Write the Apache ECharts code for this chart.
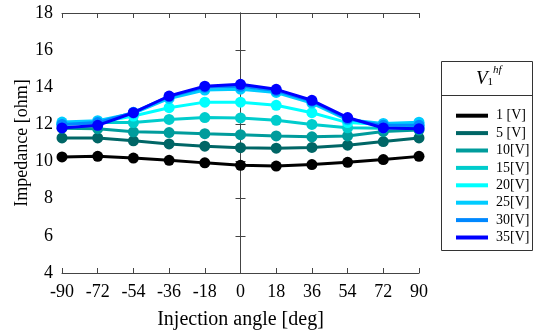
<!DOCTYPE html>
<html>
<head>
<meta charset="utf-8">
<script src="https://cdn.jsdelivr.net/npm/echarts@6/dist/echarts.min.js"></script>
<style>
  html, body { margin: 0; padding: 0; background: #fff; }
  #chart { width: 535px; height: 332px; }
</style>
</head>
<body>
<div id="chart"></div>
<script>
const angles = [-90, -72, -54, -36, -18, 0, 18, 36, 54, 72, 90];
const seriesNames = ["1 [V]", "5 [V]", "10[V]", "15[V]", "20[V]", "25[V]", "30[V]", "35[V]"];
const seriesColors = ["#000000", "#006666", "#009c9c", "#00cccc", "#00ffff", "#00ccff", "#0088ff", "#0000ff"];
const v1 = [10.25, 10.28, 10.19, 10.07, 9.93, 9.8, 9.76, 9.84, 9.96, 10.11, 10.28];
const v5 = [11.27, 11.27, 11.12, 10.95, 10.83, 10.75, 10.72, 10.76, 10.88, 11.08, 11.27];
const v10 = [11.8, 11.77, 11.6, 11.56, 11.5, 11.45, 11.38, 11.33, 11.38, 11.62, 11.7];
const v15 = [12.0, 12.1, 12.1, 12.27, 12.37, 12.35, 12.22, 12.0, 11.82, 11.8, 11.85];
const v20 = [12.05, 12.1, 12.45, 12.9, 13.2, 13.2, 13.03, 12.63, 12.1, 12.0, 12.0];
const v25 = [12.13, 12.2, 12.6, 13.4, 13.85, 13.9, 13.72, 13.15, 12.25, 12.05, 12.12];
const v30 = [12.0, 12.1, 12.65, 13.5, 14.0, 14.05, 13.82, 13.25, 12.3, 11.95, 11.95];
const v35 = [11.81, 11.95, 12.63, 13.53, 14.06, 14.16, 13.89, 13.3, 12.37, 11.81, 11.77];
const allValues = [v1, v5, v10, v15, v20, v25, v30, v35];
const yTicks = [4, 6, 8, 10, 12, 14, 16, 18];

const font = "'Liberation Serif', 'Times New Roman', serif";
const axisColor = "#444";

const chart = echarts.init(document.getElementById("chart"), null, { renderer: "canvas" });

const tickAxis = {
  axisLine: { show: true, lineStyle: { color: axisColor, width: 1 } },
  axisTick: { show: true, inside: true, length: 5, lineStyle: { color: axisColor } },
  splitLine: { show: false },
};

chart.setOption({
  animation: false,
  backgroundColor: "#fff",
  grid: { left: 62, right: 116, top: 13, bottom: 59, outerBoundsMode: "none" },
  xAxis: [
    {
      type: "value",
      min: -90,
      max: 90,
      interval: 18,
      ...tickAxis,
      axisLabel: { color: "#000", fontFamily: font, fontSize: 18, margin: 10 },
      name: "Injection angle [deg]",
      nameLocation: "middle",
      nameGap: 37,
      nameTextStyle: { color: "#000", fontFamily: font, fontSize: 20 },
    },
    {
      type: "value",
      position: "top",
      min: -90,
      max: 90,
      interval: 18,
      ...tickAxis,
      axisLabel: { show: false },
    },
  ],
  yAxis: [
    {
      type: "value",
      min: yTicks[0],
      max: yTicks[yTicks.length - 1],
      interval: 2,
      ...tickAxis,
      axisLabel: { color: "#000", fontFamily: font, fontSize: 18, margin: 9 },
      name: "Impedance [ohm]",
      nameLocation: "middle",
      nameGap: 31,
      nameMoveOverlap: false,
      nameTextStyle: { color: "#000", fontFamily: font, fontSize: 18 },
    },
    {
      type: "value",
      position: "right",
      min: yTicks[0],
      max: yTicks[yTicks.length - 1],
      interval: 2,
      ...tickAxis,
      axisLabel: { show: false },
    },
  ],
  legend: {
    orient: "vertical",
    left: 451,
    top: 102,
    itemWidth: 32,
    itemHeight: 4,
    itemGap: 0,
    icon: "rect",
    data: seriesNames,
    textStyle: {
      color: "#000",
      fontFamily: font,
      fontSize: 14,
      lineHeight: 17.4,
      padding: [0, 0, 0, 3],
    },
  },
  graphic: [
    {
      type: "rect",
      shape: { x: 441.5, y: 61.5, width: 91, height: 189 },
      style: { fill: "none", stroke: "#333", lineWidth: 1 },
      z: 10,
    },
    {
      type: "line",
      shape: { x1: 441.5, y1: 95.5, x2: 532.5, y2: 95.5 },
      style: { stroke: "#333", lineWidth: 1 },
      z: 10,
    },
    {
      type: "text",
      left: 476,
      top: 65,
      z: 10,
      style: {
        text: "{v|V}{sub|1}{sup|hf}",
        rich: {
          v: { fontFamily: font, fontSize: 19, fontStyle: "italic", fill: "#000", verticalAlign: "bottom" },
          sub: { fontFamily: font, fontSize: 11, fill: "#000", padding: [12, 0, 0, 0] },
          sup: { fontFamily: font, fontSize: 11, fontStyle: "italic", fill: "#000", padding: [0, 0, 12, 0] },
        },
      },
    },
  ],
  series: allValues.map((vals, i) => ({
    name: seriesNames[i],
    type: "line",
    data: angles.map((a, j) => [a, vals[j]]),
    color: seriesColors[i],
    lineStyle: { width: 3, color: seriesColors[i] },
    itemStyle: { color: seriesColors[i] },
    symbol: "circle",
    symbolSize: 11,
    showSymbol: true,
    z: 2 + i,
  })),
});
</script>
</body>
</html>
